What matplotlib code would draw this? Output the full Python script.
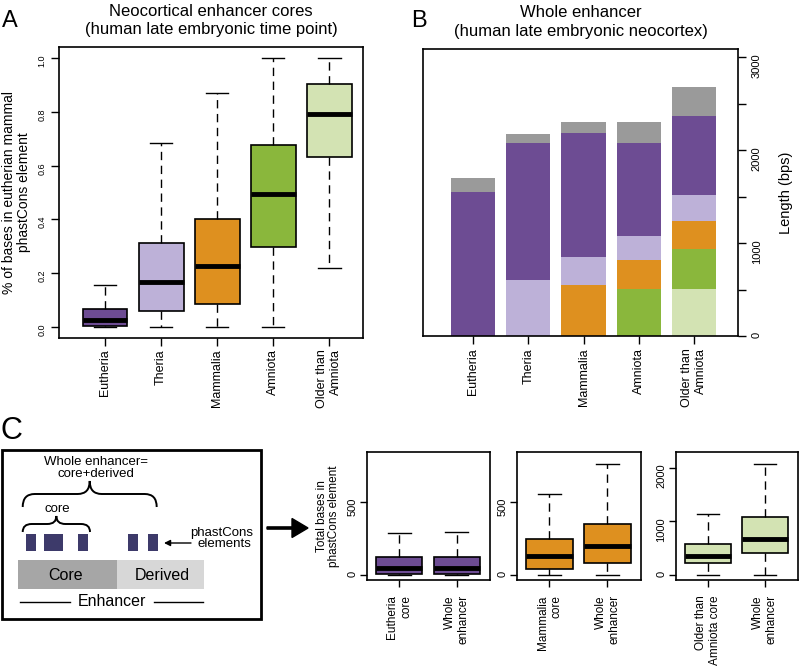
import matplotlib
matplotlib.use("Agg")
import matplotlib.pyplot as plt
import numpy as np
from matplotlib.patches import Rectangle, PathPatch
from matplotlib.path import Path

plt.rcParams["font.family"] = ["Liberation Sans", "DejaVu Sans"]

PURPLE = "#6d4c93"
LILAC = "#bdb1d8"
ORANGE = "#de901f"
GREEN = "#8ab73c"
PALE_GREEN = "#d3e3b3"
GRAY = "#9a9a9a"
BLOCK = "#3d3a6a"

# --- Panel A: fraction of bases in phastCons elements (core) ---
a_labels = ["Eutheria", "Theria", "Mammalia", "Amniota", "Older than\nAmniota"]
a_whislo = [0.0, 0.0, 0.0, 0.0, 0.219]
a_q1 = [0.005, 0.062, 0.088, 0.297, 0.631]
a_med = [0.025, 0.168, 0.228, 0.495, 0.791]
a_q3 = [0.067, 0.313, 0.401, 0.676, 0.903]
a_whishi = [0.157, 0.685, 0.869, 1.0, 1.0]
a_colors = [PURPLE, LILAC, ORANGE, GREEN, PALE_GREEN]

# --- Panel B: stacked whole-enhancer length (bps) ---
b_labels = a_labels
b_older = [0, 0, 0, 0, 505]
b_amniota = [0, 0, 0, 505, 430]
b_mammalia = [0, 0, 548, 308, 302]
b_theria = [0, 598, 301, 265, 279]
b_eutheria = [1551, 1477, 1334, 1004, 853]
b_other = [148, 97, 118, 219, 315]
b_segments = [b_older, b_amniota, b_mammalia, b_theria, b_eutheria, b_other]
b_colors = [PALE_GREEN, GREEN, ORANGE, LILAC, PURPLE, GRAY]

# --- Panel C: total bases in phastCons elements ---
c1_labels = ["Eutheria\ncore", "Whole\nenhancer"]
c1_whislo = [0, 0]
c1_q1 = [9, 9]
c1_med = [48, 48]
c1_q3 = [122, 124]
c1_whishi = [290, 294]

c2_labels = ["Mammalia\ncore", "Whole\nenhancer"]
c2_whislo = [0, 0]
c2_q1 = [43, 86]
c2_med = [129, 199]
c2_q3 = [247, 351]
c2_whishi = [552, 754]

c3_labels = ["Older than\nAmniota core", "Whole\nenhancer"]
c3_whislo = [0, 0]
c3_q1 = [218, 411]
c3_med = [361, 679]
c3_q3 = [585, 1078]
c3_whishi = [1140, 2075]


def make_stats(lo, q1, med, q3, hi):
    return [dict(whislo=a, q1=b, med=c, q3=d, whishi=e, fliers=[])
            for a, b, c, d, e in zip(lo, q1, med, q3, hi)]


def draw_boxes(ax, st, colors):
    bp = ax.bxp(st, positions=np.arange(1, len(st) + 1), widths=0.8,
                capwidths=0.4, patch_artist=True, showfliers=False,
                boxprops=dict(edgecolor="black", linewidth=1.2),
                medianprops=dict(color="black", linewidth=3.5, solid_capstyle="butt"),
                whiskerprops=dict(color="black", linewidth=1, linestyle=(0, (6, 4))),
                capprops=dict(color="black", linewidth=1))
    for patch, c in zip(bp["boxes"], colors):
        patch.set_facecolor(c)


def style_frame(ax):
    for s in ax.spines.values():
        s.set_linewidth(1.2)


fig = plt.figure(figsize=(8.02, 6.69), dpi=100)
W, H = 802.0, 669.0


def px_axes(x0, y0, x1, y1):
    return fig.add_axes([x0 / W, 1 - y1 / H, (x1 - x0) / W, (y1 - y0) / H])


# ---------------- Panel A ----------------
axA = px_axes(59, 47, 363, 338)
draw_boxes(axA, make_stats(a_whislo, a_q1, a_med, a_q3, a_whishi), a_colors)
axA.set_xlim(0.18, 5.6)
axA.set_ylim(-0.04, 1.04)
axA.set_yticks([0.0, 0.2, 0.4, 0.6, 0.8, 1.0])
axA.set_yticklabels(["0.0", "0.2", "0.4", "0.6", "0.8", "1.0"])
axA.tick_params(axis="y", labelrotation=90, labelsize=6.5, length=6, width=1, pad=3)
axA.set_xticks(range(1, 6))
axA.set_xticklabels(a_labels, rotation=90, fontsize=9, multialignment="right")
axA.tick_params(axis="x", length=6, width=1, pad=2)
axA.set_ylabel("% of bases in eutherian mammal\nphastCons element", fontsize=10,
               linespacing=1.05)
axA.yaxis.set_label_coords(-0.093, 0.5)
style_frame(axA)

# ---------------- Panel B ----------------
axB = px_axes(423, 49, 738, 336)
xb = np.arange(1, 6)
bottom = np.zeros(5)
for seg, col in zip(b_segments, b_colors):
    axB.bar(xb, seg, width=0.8, bottom=bottom, color=col, linewidth=0)
    bottom += np.array(seg)
axB.set_xlim(0.09, 5.8)
axB.set_ylim(0, 3090)
axB.yaxis.tick_right()
axB.yaxis.set_label_position("right")
axB.set_yticks([0, 500, 1000, 1500, 2000, 2500, 3000])
axB.set_yticklabels(["0", "", "1000", "", "2000", "", "3000"])
axB.tick_params(axis="y", labelrotation=90, labelsize=8, length=6, width=1, pad=4)
axB.set_xticks(xb)
axB.set_xticklabels(b_labels, rotation=90, fontsize=9, multialignment="right")
axB.tick_params(axis="x", length=6, width=1, pad=3)
axB.set_ylabel("Length (bps)", fontsize=10.5)
axB.yaxis.set_label_coords(1.13, 0.5)
style_frame(axB)

# ---------------- Panel C boxplots ----------------
c_specs = [
    ((367, 452, 490, 580), c1_labels, make_stats(c1_whislo, c1_q1, c1_med, c1_q3, c1_whishi),
     PURPLE, (-32, 838), [0, 500]),
    ((517, 452, 641, 580), c2_labels, make_stats(c2_whislo, c2_q1, c2_med, c2_q3, c2_whishi),
     ORANGE, (-32, 838), [0, 500]),
    ((676, 452, 798, 580), c3_labels, make_stats(c3_whislo, c3_q1, c3_med, c3_q3, c3_whishi),
     PALE_GREEN, (-93, 2293), [0, 1000, 2000]),
]
c_axes = []
for box, labels, st, col, ylim, yt in c_specs:
    ax = px_axes(*box)
    draw_boxes(ax, st, [col, col])
    ax.set_xlim(0.44, 2.58)
    ax.set_ylim(*ylim)
    ax.set_yticks(yt)
    ax.set_yticklabels([str(v) for v in yt])
    ax.tick_params(axis="y", labelrotation=90, labelsize=8, length=5, width=1, pad=2)
    ax.set_xticks([1, 2])
    ax.set_xticklabels(labels, rotation=90, fontsize=8.5, multialignment="right")
    ax.tick_params(axis="x", length=5, width=1, pad=6)
    style_frame(ax)
    c_axes.append(ax)
c_axes[0].set_ylabel("Total bases in\nphastCons element", fontsize=8.5, linespacing=1.0)
c_axes[0].yaxis.set_label_coords(-0.22, 0.5)

# ---------------- overlay: titles, letters, schematic ----------------
ov = fig.add_axes([0, 0, 1, 1])
ov.set_xlim(0, W)
ov.set_ylim(H, 0)
ov.axis("off")

ov.text(2, 27, "A", fontsize=17, va="baseline")
ov.text(411, 27, "B", fontsize=17, va="baseline")
ov.text(1, 439, "C", fontsize=22, va="baseline")

ov.text(211, 16, "Neocortical enhancer cores", fontsize=12, ha="center", va="baseline")
ov.text(211, 34, "(human late embryonic time point)", fontsize=12, ha="center", va="baseline")
ov.text(581, 17, "Whole enhancer", fontsize=12, ha="center", va="baseline")
ov.text(581, 36, "(human late embryonic neocortex)", fontsize=12, ha="center", va="baseline")

# schematic frame
ov.add_patch(Rectangle((2, 450), 259, 169, fill=False, lw=2, ec="black"))


def brace(x0, x1, ybot, ytop, r):
    xm = (x0 + x1) / 2
    ymid = (ybot + ytop) / 2
    verts = [(x0, ybot), (x0, ymid), (x0 + r, ymid), (xm - r, ymid),
             (xm, ymid), (xm, ytop), (xm, ymid), (xm + r, ymid),
             (x1 - r, ymid), (x1, ymid), (x1, ybot)]
    codes = [Path.MOVETO, Path.CURVE3, Path.CURVE3, Path.LINETO,
             Path.CURVE3, Path.CURVE3, Path.CURVE3, Path.CURVE3,
             Path.LINETO, Path.CURVE3, Path.CURVE3]
    ov.add_patch(PathPatch(Path(verts, codes), fill=False, lw=1.4, ec="black"))


ov.text(96, 462, "Whole enhancer=", fontsize=9.5, ha="center", va="center")
ov.text(96, 474, "core+derived", fontsize=9.5, ha="center", va="center")
brace(22.7, 156.7, 507, 481, 12)
ov.text(57, 509, "core", fontsize=9.5, ha="center", va="center")
brace(22.7, 90, 532, 516, 9)

for bx0, bx1 in [(26, 36), (44, 63), (78, 88), (128, 138), (148, 158)]:
    ov.add_patch(Rectangle((bx0, 534), bx1 - bx0, 17, color=BLOCK, lw=0))

ov.annotate("", xy=(164, 543), xytext=(191, 543),
            arrowprops=dict(arrowstyle="-|>", lw=1, color="black", mutation_scale=9,
                            shrinkA=0, shrinkB=0))
ov.text(222, 533, "phastCons", fontsize=9.5, ha="center", va="center")
ov.text(224, 544, "elements", fontsize=9.5, ha="center", va="center")

ov.add_patch(Rectangle((18, 560), 99, 29, color="#a6a6a6", lw=0))
ov.add_patch(Rectangle((117, 560), 87, 29, color="#d7d7d7", lw=0))
ov.text(66, 576, "Core", fontsize=11.5, ha="center", va="center")
ov.text(162, 576, "Derived", fontsize=11.5, ha="center", va="center")

ov.plot([20, 70], [602, 602], color="black", lw=1)
ov.plot([154, 203], [602, 602], color="black", lw=1)
ov.text(112, 602, "Enhancer", fontsize=11.5, ha="center", va="center")

# big arrow to panel C plots
ov.arrow(267, 528, 41, 0, width=2.2, head_width=19, head_length=16,
         length_includes_head=True, color="black")

fig.savefig("out.png", dpi=100, facecolor="white")
